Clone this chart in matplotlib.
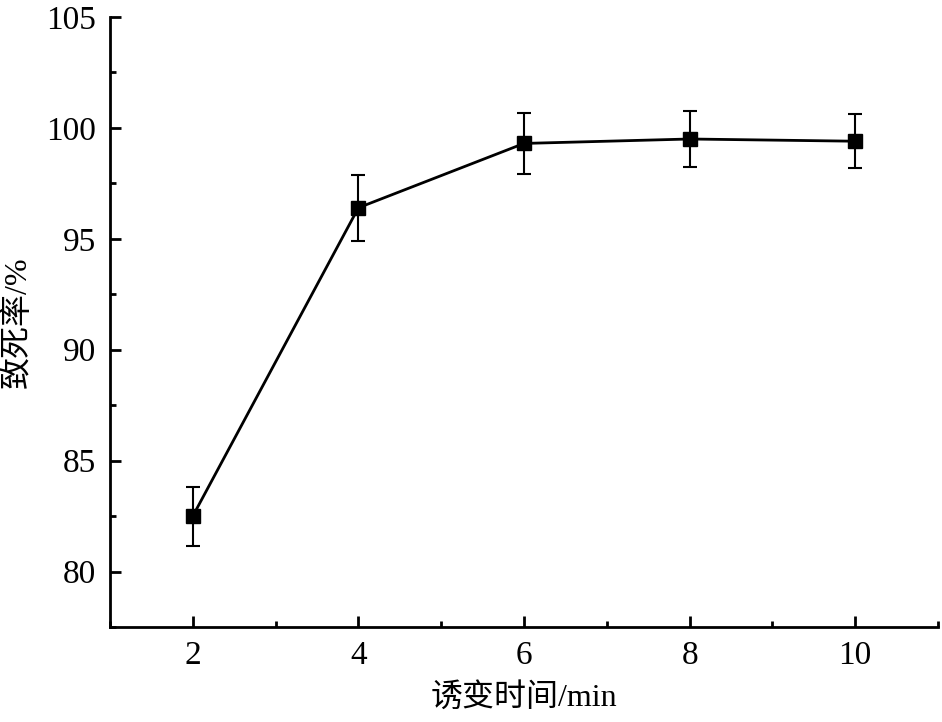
import matplotlib
matplotlib.use("Agg")
import matplotlib.pyplot as plt
from matplotlib.ticker import MultipleLocator

plt.rcParams['font.family'] = ['Liberation Serif', 'Noto Sans CJK SC', 'DejaVu Sans']

time_min = [2, 4, 6, 8, 10]
lethality = [82.5, 96.4, 99.3, 99.5, 99.4]
errors = [1.33, 1.48, 1.38, 1.28, 1.21]
xlabel = "诱变时间/min"
ylabel = "致死率/%"

fig = plt.figure(figsize=(9.42, 7.22), dpi=100)
ax = fig.add_axes([110/942, 1-627/722, (938-110)/942, (627-17)/722])

ax.errorbar(time_min, lethality, yerr=errors, color='black', lw=2.0,
            marker='s', markersize=10, capsize=5, elinewidth=1.5, capthick=1.5)

ax.set_xlim(1, 11)
ax.set_ylim(77.5, 105)
ax.xaxis.set_major_locator(MultipleLocator(2))
ax.xaxis.set_minor_locator(MultipleLocator(1))
ax.yaxis.set_major_locator(MultipleLocator(5))
ax.yaxis.set_minor_locator(MultipleLocator(2.5))
ax.set_xticks([2, 4, 6, 8, 10])

for s in ['top', 'right']:
    ax.spines[s].set_visible(False)
for s in ['left', 'bottom']:
    ax.spines[s].set_linewidth(2.0)

ax.tick_params(which='major', direction='in', length=8, width=2.0, labelsize=24, pad=10)
ax.tick_params(which='minor', direction='in', length=4, width=2.0)
# hide minor tick at x=1 and 11 (edges)

ax.set_xlabel(xlabel, fontsize=23, labelpad=8)
ax.set_ylabel(ylabel, fontsize=23, labelpad=10)

fig.savefig("out.png", dpi=100)
